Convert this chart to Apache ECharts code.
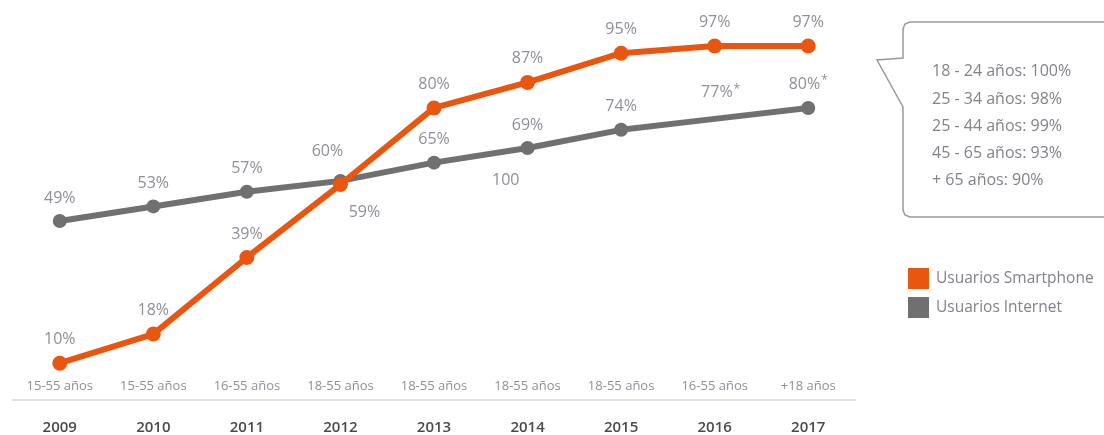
<!DOCTYPE html>
<html>
<head>
<meta charset="utf-8">
<script src="https://cdn.jsdelivr.net/npm/echarts@6/dist/echarts.min.js"></script>
<style>
  html, body { margin: 0; padding: 0; background: #fff; }
  #chart { width: 1104px; height: 435px; }
</style>
</head>
<body>
<div id="chart"></div>
<script>
// Years and the age range surveyed each year
const years = ['2009', '2010', '2011', '2012', '2013', '2014', '2015', '2016', '2017'];
const ageRanges = ['15-55 años', '15-55 años', '16-55 años', '18-55 años', '18-55 años', '18-55 años', '18-55 años', '16-55 años', '+18 años'];

// Percentages per year
const smartphoneUsers = [10, 18, 39, 59, 80, 87, 95, 97, 97];
const internetUsers = [49, 53, 57, 60, 65, 69, 74, 77, 80];
const internetNotes = ['', '', '', '', '', '', '', '*', '*'];

// 2017 breakdown by age group
const ageBreakdown = [
  '18 - 24 años: 100%',
  '25 - 34 años: 98%',
  '25 - 44 años: 99%',
  '45 - 65 años: 93%',
  '+ 65 años: 90%'
];

const ORANGE = '#E9560F';
const GREY = '#707070';
const LABEL = '#8e9098';
const FONT = '"Open Sans", "Noto Sans", sans-serif';

const labelBase = {
  show: true,
  position: 'top',
  distance: 8,
  color: LABEL,
  fontSize: 16,
  fontFamily: FONT
};

const smartData = smartphoneUsers.map((v, i) => {
  const d = { value: v };
  if (years[i] === '2012') {
    d.label = { position: 'bottom', offset: [24, 4] };
  }
  return d;
});

const internetData = internetUsers.map((v, i) => {
  const d = { value: v, note: internetNotes[i] };
  if (years[i] === '2012') {
    d.label = { offset: [-13, -6] };
  }
  if (years[i] === '2016') {
    // the 2016 point carries no dot, only its label
    d.itemStyle = { color: 'rgba(0,0,0,0)' };
    d.label = { distance: 10, offset: [6, 0] };
  }
  return d;
});

// outline of the speech bubble, with slightly rounded corners
function bubbleOutline(x0, y0, y1, right) {
  const r = 7;
  return [
    [right, y0], [x0 + r, y0], [x0 + 2, y0 + 2], [x0, y0 + r],
    [x0, 58], [877, 60], [x0, 107],
    [x0, y1 - r], [x0 + 2, y1 - 2], [x0 + r, y1], [right, y1]
  ];
}

const chart = echarts.init(document.getElementById('chart'), null, { renderer: 'canvas' });

chart.setOption({
  animation: false,
  backgroundColor: '#fff',
  grid: { left: 13, right: 249, top: 35, bottom: 27 },
  legend: {
    orient: 'vertical',
    left: 903,
    top: 263,
    itemWidth: 21,
    itemHeight: 21,
    itemGap: 8,
    icon: 'rect',
    data: ['Usuarios Smartphone', 'Usuarios Internet'],
    textStyle: { color: '#80838b', fontSize: 15.5, fontFamily: FONT, padding: [0, 0, 0, 2] }
  },
  xAxis: [
    {
      type: 'category',
      data: years,
      boundaryGap: true,
      axisLine: { show: true, lineStyle: { color: '#e2e2e2', width: 2 } },
      axisTick: { show: false },
      axisLabel: { color: '#4a4a4a', fontSize: 15, fontWeight: 600, fontFamily: FONT, margin: 13 }
    },
    {
      type: 'category',
      data: ageRanges,
      position: 'bottom',
      boundaryGap: true,
      axisLine: { show: false },
      axisTick: { show: false },
      axisLabel: { inside: true, color: '#8e9098', fontSize: 13, fontFamily: FONT, margin: 14 }
    }
  ],
  yAxis: {
    type: 'value',
    min: -2,
    max: 100,
    show: false,
    splitLine: { show: false }
  },
  series: [
    {
      name: 'Usuarios Internet',
      type: 'line',
      data: internetData,
      symbol: 'circle',
      symbolSize: 14,
      lineStyle: { width: 6, color: GREY },
      itemStyle: { color: GREY },
      label: Object.assign({}, labelBase, {
        formatter: p => p.value + '%' + (p.data.note ? '{s|' + p.data.note + '}' : ''),
        rich: {
          s: { fontSize: 12, color: LABEL, fontFamily: FONT, verticalAlign: 'top', padding: [0, 0, 6, 1] }
        }
      }),
      z: 2
    },
    {
      name: 'Usuarios Smartphone',
      type: 'line',
      data: smartData,
      symbol: 'circle',
      symbolSize: 15,
      lineStyle: { width: 6, color: ORANGE },
      itemStyle: { color: ORANGE },
      label: Object.assign({}, labelBase, { formatter: '{c}%' }),
      z: 3
    }
  ],
  graphic: [
    {
      type: 'polyline',
      shape: { points: bubbleOutline(903, 22, 217, 1112) },
      style: { fill: 'none', stroke: '#9a9a9a', lineWidth: 1.5 },
      z: 10
    },
    {
      type: 'text',
      left: 932,
      top: 58,
      style: {
        text: ageBreakdown.join('\n'),
        fill: '#80838b',
        fontSize: 16,
        fontFamily: FONT,
        lineHeight: 27.3
      },
      z: 11
    },
    {
      type: 'text',
      left: 492,
      top: 172,
      style: { text: '100', fill: LABEL, fontSize: 16, fontFamily: FONT },
      z: 11
    }
  ]
});
</script>
</body>
</html>
